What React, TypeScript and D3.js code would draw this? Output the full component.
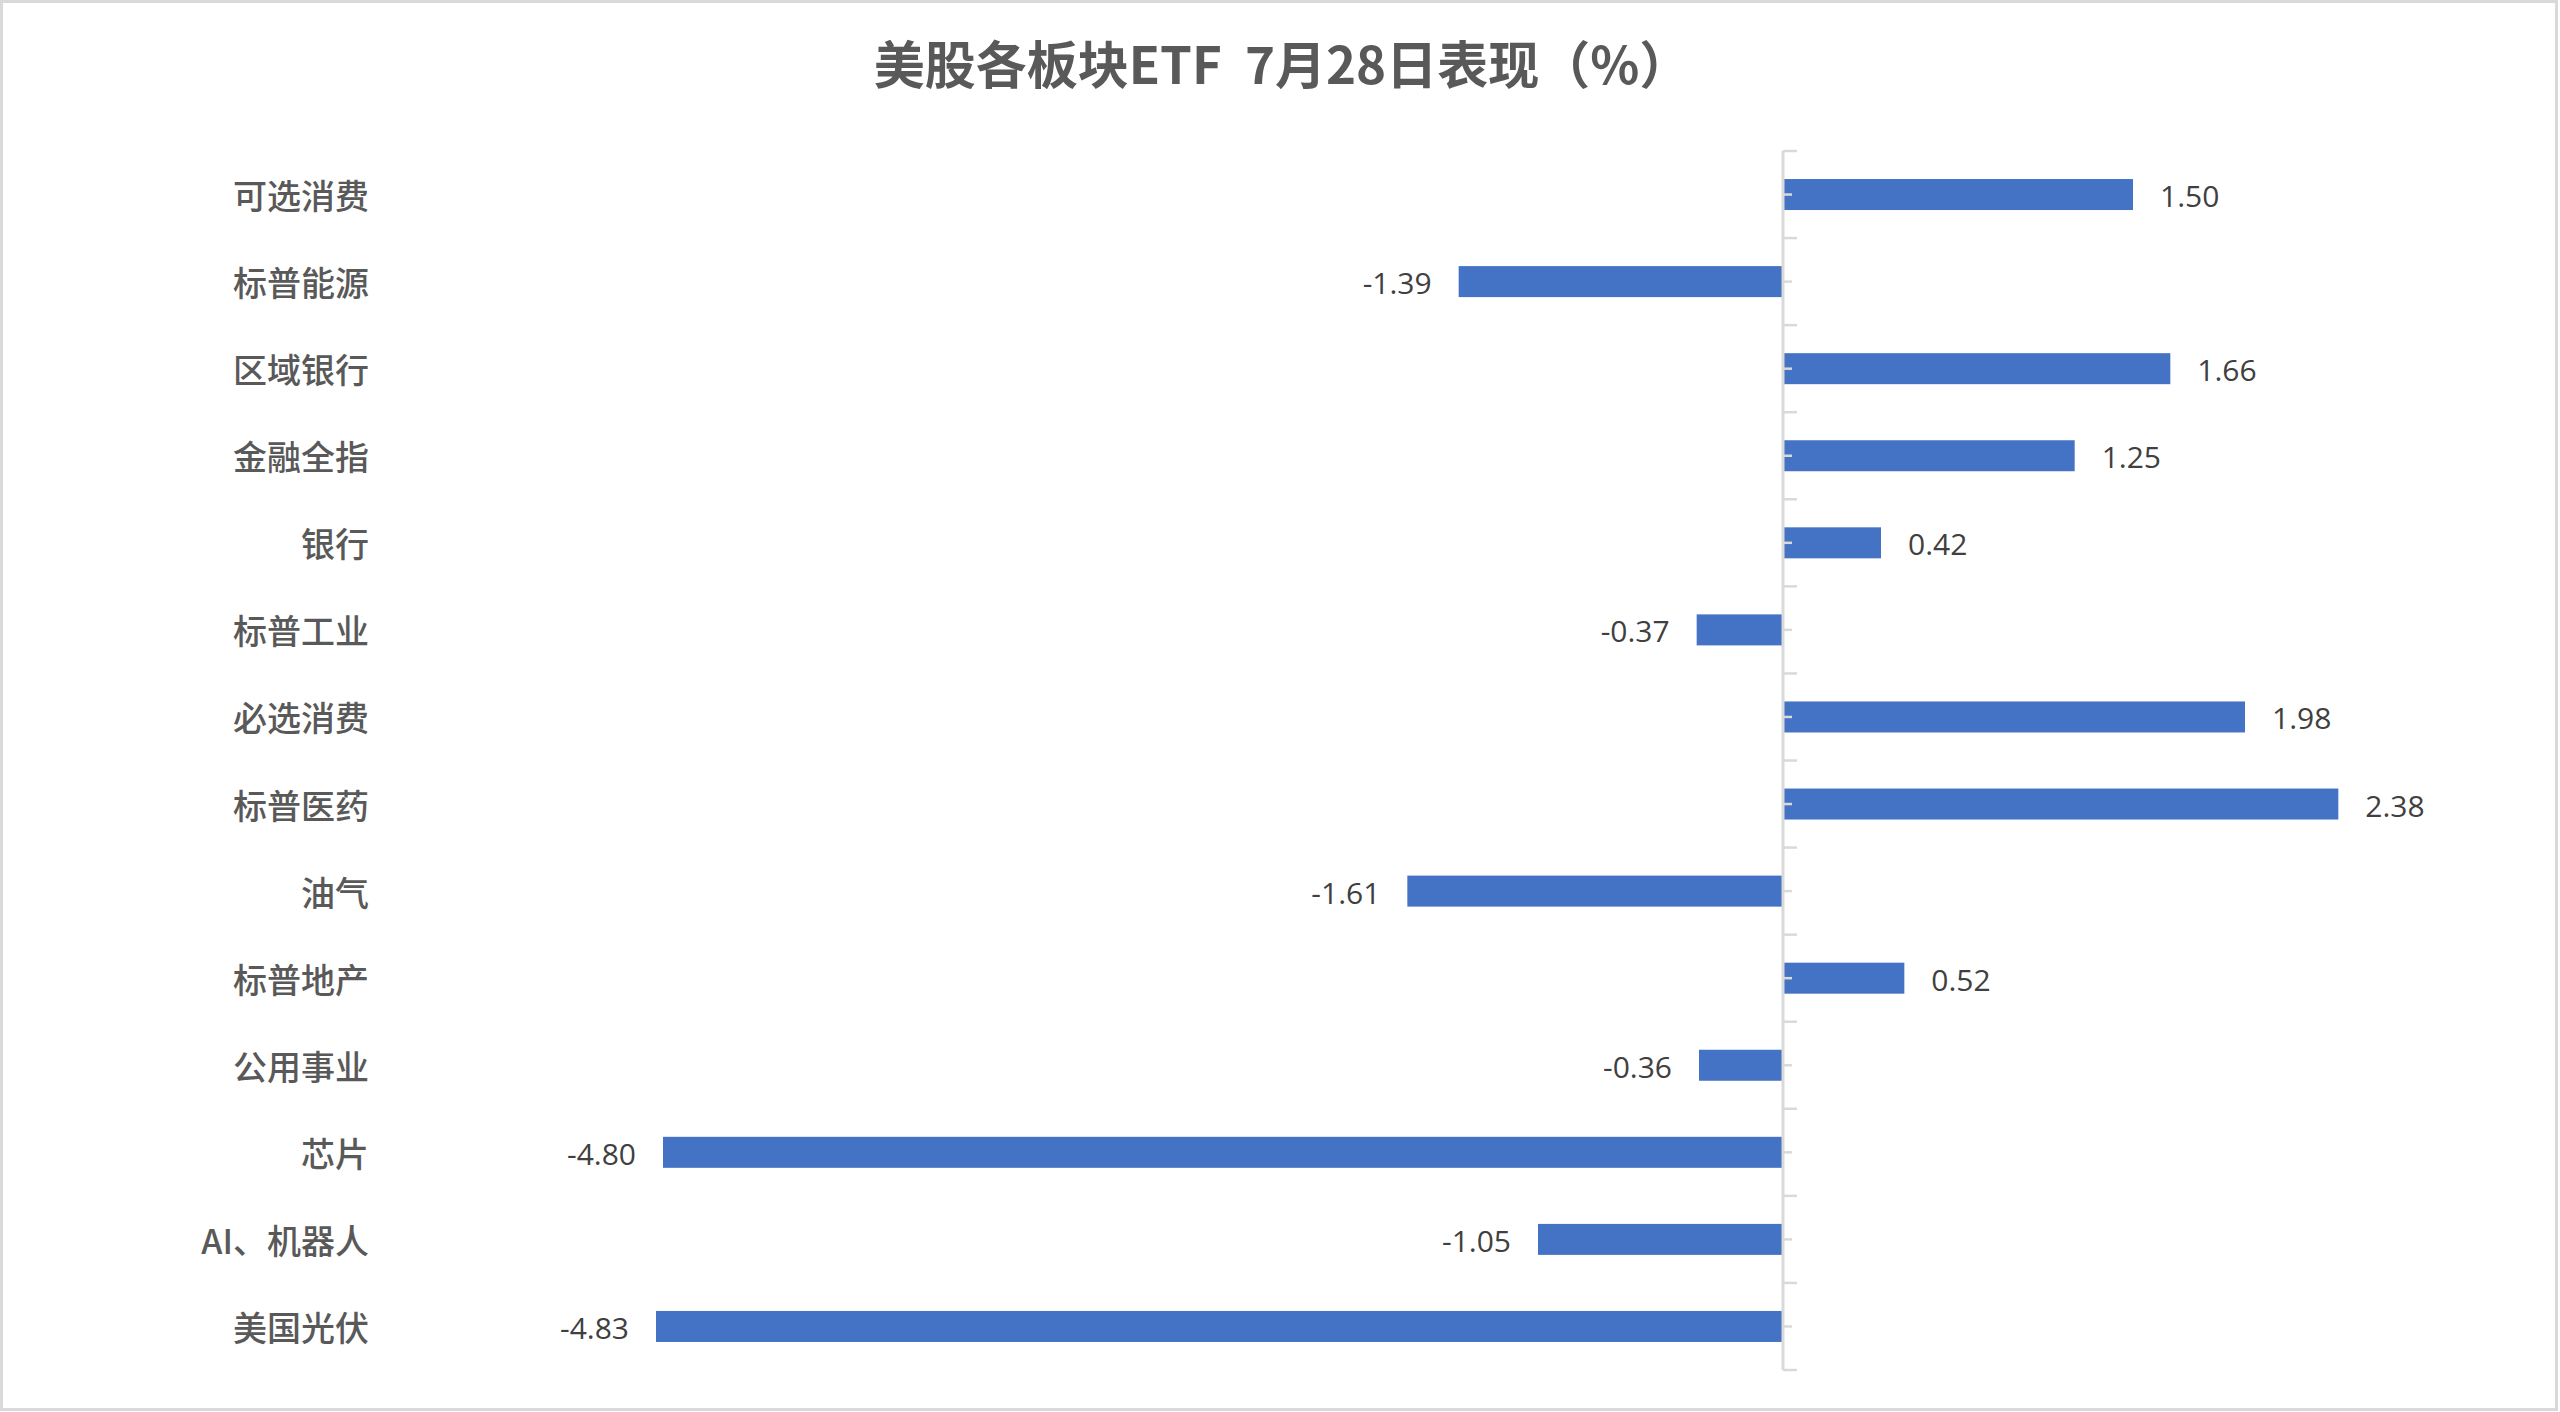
import React from "react";
import * as d3 from "d3";

const categories = ["可选消费", "标普能源", "区域银行", "金融全指", "银行", "标普工业", "必选消费", "标普医药", "油气", "标普地产", "公用事业", "芯片", "AI、机器人", "美国光伏"];
const values = [1.5, -1.39, 1.66, 1.25, 0.42, -0.37, 1.98, 2.38, -1.61, 0.52, -0.36, -4.8, -1.05, -4.83];
const title = "美股各板块ETF  7月28日表现（%）";

const W = 2560;
const H = 1412;

const fmt = (v: number) => d3.format(".2f")(v).replace("\u2212", "-");

export default function App() {
  const x = d3.scaleLinear().domain([-6, 3]).range([383, 2483]);
  const y = d3.scaleBand<string>().domain(categories).range([151, 1370]).paddingInner(0.644).paddingOuter(0.322);
  const step = y.step();
  const x0 = x(0);
  const boundaries = d3.range(categories.length + 1).map((i) => 151 + i * step);
  const cjk = "'Noto Sans CJK SC', 'Noto Sans', sans-serif";
  return (
    <svg width={W} height={H} style={{ position: "absolute", left: 0, top: 0, background: "#fff" }}>
      <rect x={1.5} y={1.5} width={2555} height={1408} fill="#fff" stroke="#d9d9d9" strokeWidth={3} />
      <text x={1282} y={62} textAnchor="middle" dominantBaseline="central" fontFamily={cjk} fontWeight={700} fontSize={51} fill="#595959" style={{ whiteSpace: "pre" }}>
        {title}
      </text>
      {categories.map((c, i) => {
        const v = values[i];
        const yy = y(c)!;
        const bx = Math.min(x(v), x0);
        const bw = Math.abs(x(v) - x0);
        const cy = yy + y.bandwidth() / 2;
        return (
          <g key={c}>
            <rect x={bx} y={yy} width={bw} height={y.bandwidth()} fill="#4472C4" />
            <text x={v >= 0 ? x(v) + 27 : x(v) - 27} y={cy + 1} textAnchor={v >= 0 ? "start" : "end"} dominantBaseline="central" fontFamily="'Open Sans', sans-serif" fontSize={30} fill="#404040">
              {fmt(v)}
            </text>
            <text x={369} y={cy} textAnchor="end" dominantBaseline="central" fontFamily={cjk} fontWeight={500} fontSize={34} fill="#595959">
              {c}
            </text>
          </g>
        );
      })}
      <line x1={x0} x2={x0} y1={151} y2={1370} stroke="#d9d9d9" strokeWidth={3} />
      {boundaries.map((b, i) => (
        <line key={"b" + i} x1={x0} x2={x0 + 14} y1={b} y2={b} stroke="#d9d9d9" strokeWidth={2.5} />
      ))}
      {categories.map((c) => (
        <line key={"m" + c} x1={x0} x2={x0 + 9} y1={y(c)! + y.bandwidth() / 2} y2={y(c)! + y.bandwidth() / 2} stroke="#d9d9d9" strokeWidth={2.5} />
      ))}
    </svg>
  );
}
